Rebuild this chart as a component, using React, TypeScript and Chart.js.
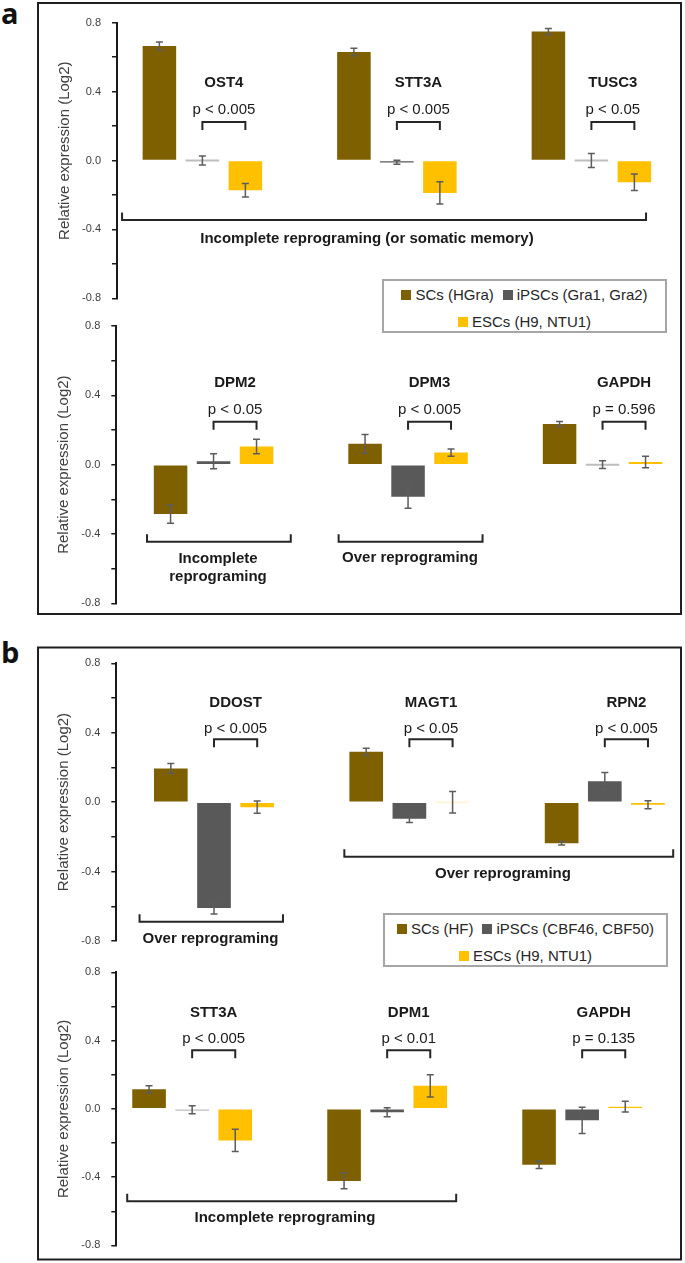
import React, { useEffect, useRef } from 'react';
import { Chart, registerables } from 'chart.js';

Chart.register(...registerables);

const FONT = '"Liberation Sans", Arial, Helvetica, sans-serif';
const PAGE_W = 685;
const PAGE_H = 1263;

// ---------- data ----------
const seriesNamesA = ['SCs (HGra)', 'iPSCs (Gra1, Gra2)', 'ESCs (H9, NTU1)'];
const seriesNamesB = ['SCs (HF)', 'iPSCs (CBF46, CBF50)', 'ESCs (H9, NTU1)'];

const a1Genes = ['OST4', 'STT3A', 'TUSC3'];
const a1SC = [0.665, 0.63, 0.749];
const a1SCErr = [0.023, 0.022, 0.017];
const a1IPSC = [0, -0.01, 0];
const a1IPSCErr = [0.026, 0.012, 0.04];
const a1ESC = [-0.173, -0.188, -0.126];
const a1ESCErr = [0.039, 0.065, 0.048];
const a1P = ['p < 0.005', 'p < 0.005', 'p < 0.05'];

const a2Genes = ['DPM2', 'DPM3', 'GAPDH'];
const a2SC = [-0.285, 0.12, 0.235];
const a2SCErr = [0.053, 0.054, 0.014];
const a2IPSC = [0.02, -0.185, 0];
const a2IPSCErr = [0.043, 0.067, 0.022];
const a2ESC = [0.105, 0.07, 0.015];
const a2ESCErr = [0.042, 0.021, 0.033];
const a2P = ['p < 0.05', 'p < 0.005', 'p = 0.596'];

const b1Genes = ['DDOST', 'MAGT1', 'RPN2'];
const b1SC = [0.194, 0.29, -0.237];
const b1SCErr = [0.028, 0.021, 0.01];
const b1IPSC = [-0.61, -0.096, 0.121];
const b1IPSCErr = [0.035, 0.021, 0.05];
const b1ESC = [-0.029, 0, -0.015];
const b1ESCErr = [0.035, 0.062, 0.023];
const b1P = ['p < 0.005', 'p < 0.05', 'p < 0.005'];

const b2Genes = ['STT3A', 'DPM1', 'GAPDH'];
const b2SC = [0.115, -0.422, -0.327];
const b2SCErr = [0.021, 0.046, 0.023];
const b2IPSC = [-0.005, -0.02, -0.067];
const b2IPSCErr = [0.023, 0.027, 0.077];
const b2ESC = [-0.185, 0.135, 0.013];
const b2ESCErr = [0.065, 0.065, 0.032];
const b2P = ['p < 0.005', 'p < 0.01', 'p = 0.135'];

const yTickMin = -0.8;
const yTickMax = 0.8;
const yTickStep = 0.2;
const yLabelStep = 0.4;
const yTitle = 'Relative expression (Log2)';

const groupTextsA1 = [['Incomplete reprograming (or somatic memory)']];
const groupTextsA2 = [['Incomplete', 'reprograming'], ['Over reprograming']];
const groupTextsB1 = [['Over reprograming'], ['Over reprograming']];
const groupTextsB2 = [['Incomplete reprograming']];

// ---------- styles / layout ----------
const COLORS = ['#7f6000', '#595959', '#ffc000'];
const LIGHTEN = [0.6, 0.6, 0.85];
const INK = '#1a1a1a';
const AXIS_TEXT = '#404040';
const CHART_RIGHT = 676;

type Group = { from: number; to: number; y: number; textY: number; labelX: number; texts: string[] };
type ChartCfg = {
  genes: string[];
  values: number[][];
  errors: number[][];
  pTexts: string[];
  axisX: number;
  yTop: number;
  yBottom: number;
  xMin: number;
  unit: number;
  titleX: number;
  titleCenter: number;
  geneY: number;
  pY: number;
  bracketY: number;
  groups: Group[];
};

const charts: ChartCfg[] = [
  {
    genes: a1Genes, values: [a1SC, a1IPSC, a1ESC], errors: [a1SCErr, a1IPSCErr, a1ESCErr], pTexts: a1P,
    axisX: 117, yTop: 22.7, yBottom: 298.3, xMin: -0.439, unit: 194.5, titleX: 64.5, titleCenter: 0.057,
    geneY: 0.45, pY: 0.293, bracketY: 0.2235,
    groups: [{ from: -0.413, to: 2.281, y: -0.345, textY: -0.456, labelX: 0.846, texts: groupTextsA1[0] }],
  },
  {
    genes: a2Genes, values: [a2SC, a2IPSC, a2ESC], errors: [a2SCErr, a2IPSCErr, a2ESCErr], pTexts: a2P,
    axisX: 116.3, yTop: 326, yBottom: 603.3, xMin: -0.5, unit: 194.5, titleX: 63.6, titleCenter: 0,
    geneY: 0.473, pY: 0.315, bracketY: 0.248,
    groups: [
      { from: -0.342, to: 0.397, y: -0.445, textY: -0.546, labelX: 0.023, texts: groupTextsA2[0] },
      { from: 0.643, to: 1.383, y: -0.445, textY: -0.54, labelX: 1.01, texts: groupTextsA2[1] },
    ],
  },
  {
    genes: b1Genes, values: [b1SC, b1IPSC, b1ESC], errors: [b1SCErr, b1IPSCErr, b1ESCErr], pTexts: b1P,
    axisX: 116.3, yTop: 663.3, yBottom: 941, xMin: -0.5, unit: 195.4, titleX: 63.6, titleCenter: 0,
    geneY: 0.573, pY: 0.425, bracketY: 0.362,
    groups: [
      { from: -0.381, to: 0.353, y: -0.689, textY: -0.789, labelX: -0.018, texts: groupTextsB1[0] },
      { from: 0.667, to: 2.35, y: -0.314, textY: -0.415, labelX: 1.479, texts: groupTextsB1[1] },
    ],
  },
  {
    genes: b2Genes, values: [b2SC, b2IPSC, b2ESC], errors: [b2SCErr, b2IPSCErr, b2ESCErr], pTexts: b2P,
    axisX: 116.3, yTop: 972.3, yBottom: 1251.7, xMin: -0.389, unit: 195, titleX: 63.6, titleCenter: 0,
    geneY: 0.565, pY: 0.412, bracketY: 0.344,
    groups: [{ from: -0.333, to: 1.354, y: -0.542, textY: -0.637, labelX: 0.476, texts: groupTextsB2[0] }],
  },
];

function mixWhite(hex: string, t: number) {
  const n = parseInt(hex.slice(1), 16);
  const f = (c: number) => Math.round(c + (255 - c) * t);
  return `rgb(${f((n >> 16) & 255)},${f((n >> 8) & 255)},${f(n & 255)})`;
}

function makePlugin(cfg: ChartCfg) {
  return {
    id: 'figureAnnotations',
    afterDatasetsDraw(chart: any) {
      const ctx: CanvasRenderingContext2D = chart.ctx;
      const xs = chart.scales.x;
      const ys = chart.scales.y;
      ctx.save();
      // error bars
      chart.data.datasets.forEach((ds: any, di: number) => {
        const meta = chart.getDatasetMeta(di);
        meta.data.forEach((el: any, i: number) => {
          const v = cfg.values[di][i];
          const e = cfg.errors[di][i];
          const y1 = ys.getPixelForValue(v + e);
          const y2 = ys.getPixelForValue(v - e);
          ctx.strokeStyle = '#5c5c5c';
          ctx.lineWidth = 1.5;
          ctx.beginPath();
          ctx.moveTo(el.x, y1);
          ctx.lineTo(el.x, y2);
          ctx.moveTo(el.x - 3.5, y1);
          ctx.lineTo(el.x + 3.5, y1);
          ctx.moveTo(el.x - 3.5, y2);
          ctx.lineTo(el.x + 3.5, y2);
          ctx.stroke();
        });
      });
      // gene labels, p-values, brackets
      const mI = chart.getDatasetMeta(1);
      const mE = chart.getDatasetMeta(2);
      ctx.textAlign = 'center';
      ctx.textBaseline = 'middle';
      ctx.fillStyle = INK;
      ctx.strokeStyle = '#262626';
      ctx.lineWidth = 2;
      cfg.genes.forEach((g, i) => {
        const xi = mI.data[i].x;
        const xe = mE.data[i].x;
        const mid = (xi + xe) / 2;
        ctx.font = `bold 15px ${FONT}`;
        ctx.fillText(g, mid, ys.getPixelForValue(cfg.geneY));
        ctx.font = `15px ${FONT}`;
        ctx.fillText(cfg.pTexts[i], mid, ys.getPixelForValue(cfg.pY));
        const yb = ys.getPixelForValue(cfg.bracketY);
        ctx.beginPath();
        ctx.moveTo(xi, yb + 8);
        ctx.lineTo(xi, yb);
        ctx.lineTo(xe, yb);
        ctx.lineTo(xe, yb + 8);
        ctx.stroke();
      });
      cfg.groups.forEach((gr) => {
        const x1 = xs.getPixelForValue(gr.from);
        const x2 = xs.getPixelForValue(gr.to);
        const yl = ys.getPixelForValue(gr.y);
        ctx.beginPath();
        ctx.moveTo(x1, yl - 7.5);
        ctx.lineTo(x1, yl);
        ctx.lineTo(x2, yl);
        ctx.lineTo(x2, yl - 7.5);
        ctx.stroke();
        ctx.font = `bold 15px ${FONT}`;
        const tx = xs.getPixelForValue(gr.labelX);
        const ty = ys.getPixelForValue(gr.textY);
        gr.texts.forEach((t, k) => ctx.fillText(t, tx, ty + k * 17.4));
      });
      // y-axis title
      ctx.save();
      ctx.translate(cfg.titleX, ys.getPixelForValue(cfg.titleCenter));
      ctx.rotate(-Math.PI / 2);
      ctx.font = `15px ${FONT}`;
      ctx.fillStyle = AXIS_TEXT;
      ctx.fillText(yTitle, 0, 0);
      ctx.restore();
      ctx.restore();
    },
  };
}

function buildChart(canvas: HTMLCanvasElement, cfg: ChartCfg, names: string[]) {
  const xMax = cfg.xMin + (CHART_RIGHT - cfg.axisX) / cfg.unit;
  const idx = cfg.genes.map((_, i) => i);
  const datasets = cfg.values.map((vals, di) => ({
    label: names[di],
    data: vals.map((v, i) => ({ x: idx[i], y: v })),
    backgroundColor: (c: any) => {
      const v = c.raw ? c.raw.y : 1;
      return Math.abs(v) < 0.008 ? mixWhite(COLORS[di], LIGHTEN[di]) : COLORS[di];
    },
    borderWidth: 0,
    minBarLength: 2,
    categoryPercentage: 0.663,
    barPercentage: 0.78,
  }));
  return new Chart(canvas, {
    type: 'bar',
    data: { datasets } as any,
    options: {
      animation: false,
      responsive: false,
      maintainAspectRatio: false,
      events: [],
      layout: { padding: { left: 0, right: PAGE_W - CHART_RIGHT, top: cfg.yTop, bottom: PAGE_H - cfg.yBottom } },
      plugins: { legend: { display: false }, tooltip: { enabled: false } },
      scales: {
        x: {
          type: 'linear',
          display: false,
          offset: false,
          min: cfg.xMin,
          max: xMax,
          afterBuildTicks: (s: any) => {
            s.ticks = idx.map((v) => ({ value: v }));
          },
        },
        y: {
          type: 'linear',
          min: yTickMin,
          max: yTickMax,
          afterFit: (s: any) => {
            s.width = cfg.axisX;
          },
          ticks: {
            stepSize: yTickStep,
            padding: 11,
            color: AXIS_TEXT,
            font: { family: FONT, size: 11 },
            callback: (v: any) => {
              const r = Number(v) / yLabelStep;
              return Math.abs(r - Math.round(r)) < 1e-6 ? (Math.round(Number(v) * 10) / 10).toFixed(1) : '';
            },
          },
          grid: { drawOnChartArea: false, drawTicks: true, tickLength: 5, color: INK, lineWidth: 1.5 },
          border: { display: true, color: INK, width: 2 },
        },
      } as any,
    },
    plugins: [makePlugin(cfg)],
  } as any);
}

function ChartCanvas({ cfg, names }: { cfg: ChartCfg; names: string[] }) {
  const ref = useRef<HTMLCanvasElement | null>(null);
  useEffect(() => {
    if (!ref.current) return;
    const ch = buildChart(ref.current, cfg, names);
    return () => ch.destroy();
  }, [cfg, names]);
  return (
    <canvas
      ref={ref}
      width={PAGE_W}
      height={PAGE_H}
      style={{ position: 'absolute', left: 0, top: 0, width: PAGE_W, height: PAGE_H }}
    />
  );
}

function Legend({ names, left, top }: { names: string[]; left: number; top: number }) {
  const item = (i: number) => (
    <span key={i} style={{ display: 'inline-flex', alignItems: 'center' }}>
      <span style={{ display: 'inline-block', width: 10, height: 10, background: COLORS[i], marginRight: 4 }} />
      <span>{names[i]}</span>
    </span>
  );
  const row: React.CSSProperties = {
    position: 'absolute',
    left: 0,
    right: 0,
    height: 18,
    lineHeight: '18px',
    display: 'flex',
    justifyContent: 'center',
    alignItems: 'center',
    gap: 9,
    whiteSpace: 'nowrap',
  };
  return (
    <div
      style={{
        position: 'absolute',
        left,
        top,
        width: 285,
        height: 54,
        boxSizing: 'border-box',
        border: '2px solid #a6a6a6',
        background: '#fff',
        fontFamily: FONT,
        fontSize: 15,
        color: '#262626',
      }}
    >
      <div style={{ ...row, top: 5 }}>{[item(0), item(1)]}</div>
      <div style={{ ...row, top: 32 }}>{[item(2)]}</div>
    </div>
  );
}

export default function App() {
  return (
    <div style={{ position: 'absolute', left: 0, top: 0, width: PAGE_W, height: PAGE_H, background: '#fff', overflow: 'hidden' }}>
      <svg width={PAGE_W} height={PAGE_H} style={{ position: 'absolute', left: 0, top: 0 }}>
        <rect x={38} y={3} width={643} height={611} fill="none" stroke="#1f1f1f" strokeWidth={2} />
        <rect x={38} y={647.5} width={643} height={612} fill="none" stroke="#1f1f1f" strokeWidth={2} />
        <text x={1} y={23.5} fontFamily='"Open Sans", sans-serif' fontWeight={700} fontSize={29} fill="#111">a</text>
        <text x={1} y={662.5} fontFamily='"Open Sans", sans-serif' fontWeight={700} fontSize={29} fill="#111">b</text>
      </svg>
      <ChartCanvas cfg={charts[0]} names={seriesNamesA} />
      <ChartCanvas cfg={charts[1]} names={seriesNamesA} />
      <ChartCanvas cfg={charts[2]} names={seriesNamesB} />
      <ChartCanvas cfg={charts[3]} names={seriesNamesB} />
      <Legend names={seriesNamesA} left={382} top={279} />
      <Legend names={seriesNamesB} left={383} top={913} />
    </div>
  );
}
